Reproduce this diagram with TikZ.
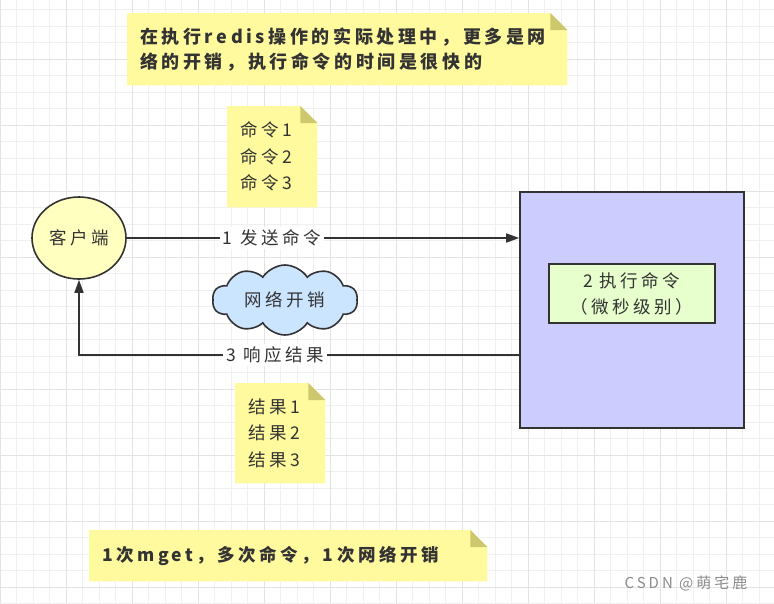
\documentclass[tikz,border=0pt]{standalone}
\usepackage{fontspec}
\setmainfont{Noto Sans CJK SC}[LetterSpace=20]
\usetikzlibrary{arrows.meta,shapes.symbols,shapes.geometric,backgrounds}

\definecolor{ink}{HTML}{333333}
\definecolor{notefill}{HTML}{FFFA9E}
\definecolor{foldfill}{HTML}{CDC86E}
\definecolor{clientfill}{HTML}{FFFFC0}
\definecolor{cloudfill}{HTML}{CCE5FF}
\definecolor{serverfill}{HTML}{CCCCFF}
\definecolor{execfill}{HTML}{E6FFCC}

\pgfdeclarelayer{grid}
\pgfsetlayers{grid,background,main}

\tikzset{
    every node/.style={text=ink, font=\fontsize{17.5}{26.5}\selectfont},
    line/.style={draw=ink, line width=1.6pt},
    arrow/.style={line, -{Triangle[length=13pt,width=9pt]}},
    note/.style={inner xsep=13pt, inner ysep=0pt, align=left, anchor=north west},
    label/.style={fill=white, inner sep=3pt},
}

% folded corner note behind a node
\newcommand{\foldnote}[1]{
    \begin{pgfonlayer}{background}
        \fill[notefill] (#1.south west) -- (#1.north west) -- ([xshift=-17pt]#1.north east)
            -- ([yshift=-17pt]#1.north east) -- (#1.south east) -- cycle;
        \fill[foldfill] ([xshift=-17pt]#1.north east) -- ([xshift=-17pt,yshift=-17pt]#1.north east)
            -- ([yshift=-17pt]#1.north east) -- cycle;
    \end{pgfonlayer}
}

\begin{document}
\begin{tikzpicture}[x=1pt, y=-1pt]
        \useasboundingbox (0,0) rectangle (774,603);
        \begin{pgfonlayer}{grid}
            \fill[white] (0,0) rectangle (774,603);
            \foreach \i in {0,...,47} {
                \draw[black!6, line width=1pt] (16.5*\i,0) -- (16.5*\i,603);
            }
            \foreach \i in {0,...,37} {
                \draw[black!6, line width=1pt] (0,-7+16.5*\i) -- (774,-7+16.5*\i);
            }
            \foreach \i in {0,...,11} {
                \draw[black!11, line width=1pt] (66*\i,0) -- (66*\i,603);
            }
            \foreach \i in {0,...,9} {
                \draw[black!11, line width=1pt] (0,-7+66*\i) -- (774,-7+66*\i);
            }
        \end{pgfonlayer}

        % notes
        \node[note, text width=414pt, minimum height=72pt, font=\bfseries\fontsize{18}{25}\selectfont] (topnote) at (127,13)
            {在执行redis操作的实际处理中，更多是网\\络的开销，执行命令的时间是很快的};
        \foldnote{topnote}
        \node[note, text width=64pt, minimum height=101pt] (cmdnote) at (227,106) {命令1\\命令2\\命令3};
        \foldnote{cmdnote}
        \node[note, text width=64pt, minimum height=100pt] (resnote) at (235,383) {结果1\\结果2\\结果3};
        \foldnote{resnote}
        \node[note, text width=372pt, minimum height=51pt, font=\bfseries\fontsize{17.5}{25}\selectfont] (sumnote) at (89,530)
            {1次mget，多次命令，1次网络开销};
        \foldnote{sumnote}

        \node[ellipse, line, fill=clientfill, minimum width=94pt, minimum height=82pt, inner sep=0pt] (client) at (79,238) {客户端};
        \node[rectangle, line, fill=serverfill, minimum width=224pt, minimum height=236pt] (server) at (632,310) {};
        \node[rectangle, line, fill=execfill, minimum width=166pt, minimum height=59pt, align=center,
            font=\fontsize{17.5}{26}\selectfont] (exec) at (632,293.5) {2\hspace{6pt}执行命令\\（微秒级别）};
        \node[cloud, cloud puffs=10, cloud puff arc=115, aspect=2.2, line, fill=cloudfill,
            minimum width=145pt, minimum height=70pt, inner sep=0pt] (net) at (285,300) {网络开销};

        \draw[arrow] (client) -- (client -| server.west) node[label, pos=0.37] {1\hspace{8pt}发送命令};
        \draw[arrow] ([yshift=-45pt]server.west) -| (client.south) node[label, pos=0.277] {3\hspace{8pt}响应结果};

        \node[text=black!45, font=\fontsize{15}{18}\selectfont, inner sep=0pt] (mark) at (686,583) {CSDN @萌宅鹿};
    \end{tikzpicture}
\end{document}
